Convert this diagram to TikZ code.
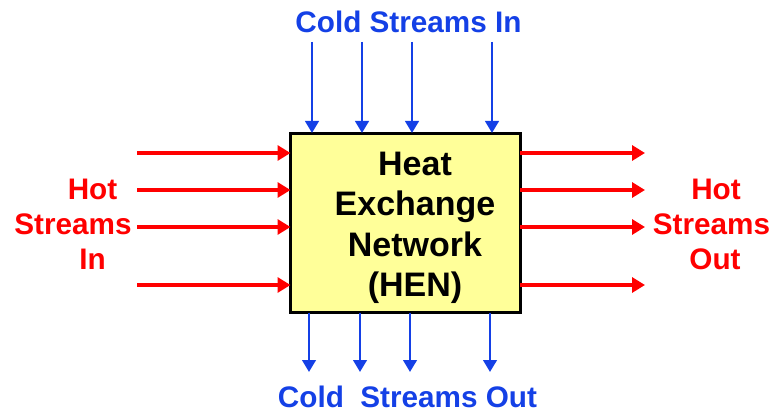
\documentclass[tikz,border=0pt]{standalone}
\usepackage{fontspec}
\setmainfont{Liberation Sans}
\usetikzlibrary{arrows.meta}
\definecolor{hotred}{RGB}{255,0,0}
\definecolor{coldblue}{RGB}{20,64,230}
\definecolor{henfill}{RGB}{255,255,153}
\tikzset{
  hot/.style={draw=hotred, line width=3.2pt, -{Triangle[length=13pt,width=15pt]}},
  cold/.style={draw=coldblue, line width=2.7pt, -{Triangle[length=12pt,width=13.5pt]}},
  sidelabel/.style={font=\fontsize{29.7}{35}\selectfont\bfseries, align=center, inner sep=0pt},
  henbox/.style={draw=black, line width=3pt, fill=henfill, outer sep=0pt,
    minimum width=229.5pt, minimum height=179.5pt, inner sep=0pt},
  hentext/.style={font=\fontsize{34}{40.5}\selectfont\bfseries, align=center, inner sep=0pt}
}
\begin{document}
\begin{tikzpicture}[x=1pt,y=1pt]
\useasboundingbox (0,0) rectangle (775,413);
\node[henbox] (hen) at (405.25,190.25) {};
\node[hentext] (hentxt) at (415,185.4) {Heat\\Exchange\\Network\\(HEN)};

% hot streams in
\coordinate (hi1) at (137,260);
\coordinate (hi2) at (137,223);
\coordinate (hi3) at (137,186);
\coordinate (hi4) at (137,128);
\foreach \i in {1,...,4} \draw[hot] (hi\i) -- (hi\i -| hen.west);

% hot streams out
\coordinate (ho1) at (645,260);
\coordinate (ho2) at (645,223);
\coordinate (ho3) at (645,186);
\coordinate (ho4) at (645,128);
\foreach \i in {1,...,4} \draw[hot] (ho\i -| hen.east) -- (ho\i);

% cold streams in
\coordinate (ci1) at (312,371);
\coordinate (ci2) at (362,371);
\coordinate (ci3) at (412,371);
\coordinate (ci4) at (492,371);
\foreach \i in {1,...,4} \draw[cold] (ci\i) -- (ci\i |- hen.north);

% cold streams out
\coordinate (co1) at (309,41);
\coordinate (co2) at (360,41);
\coordinate (co3) at (410,41);
\coordinate (co4) at (490,41);
\foreach \i in {1,...,4} \draw[cold] (co\i |- hen.south) -- (co\i);

% labels
\node[sidelabel, text=hotred] (hotin) at (73,188.8) {\hspace*{39pt}Hot\\Streams\\\hspace*{39pt}In};
\node[sidelabel, text=hotred] (hotout) at (711.5,188.8) {\hspace*{9pt}Hot\\Streams\\\hspace*{7pt}Out};
\node[sidelabel, text=coldblue, anchor=base] (coldin) at (408.5,380) {Cold Streams In};
\node[sidelabel, text=coldblue, anchor=base] (coldout) at (407.5,6) {Cold\ \ Streams Out};
\end{tikzpicture}
\end{document}
